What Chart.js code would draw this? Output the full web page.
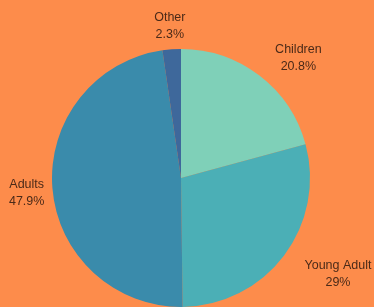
<!DOCTYPE html>
<html>
<head>
<meta charset="utf-8">
<script src="https://cdn.jsdelivr.net/npm/chart.js@4/dist/chart.umd.min.js"></script>
<style>
  html, body { margin: 0; padding: 0; background: #fd8c4b; }
  canvas { display: block; }
</style>
</head>
<body>
<canvas id="ageChart" width="374" height="307"></canvas>
<script>
const categories = ['Children', 'Young Adult', 'Adults', 'Other'];
const shares = [20.8, 29, 47.9, 2.3];
const sliceColors = ['#7fd0b8', '#4bafb6', '#3a8bab', '#3e689b'];

// labels outside the slices, two lines: name + percent
const outsideLabels = {
    id: 'outsideLabels',
    afterDatasetsDraw(chart) {
        const ctx = chart.ctx;
        const meta = chart.getDatasetMeta(0);
        ctx.save();
        ctx.font = '12.5px "Liberation Sans", Arial, sans-serif';
        ctx.fillStyle = '#4b2a18';
        ctx.textBaseline = 'middle';
        ctx.textAlign = 'center';
        meta.data.forEach(function(arc, i) {
            const p = arc.getProps(['x', 'y', 'startAngle', 'endAngle', 'outerRadius'], true);
            const mid = (p.startAngle + p.endAngle) / 2;
            const r = p.outerRadius * 1.2;
            let lx = p.x + Math.cos(mid) * r;
            const ly = p.y + Math.sin(mid) * r + 2.5;
            const lines = [categories[i], shares[i] + '%'];
            const w = Math.max.apply(null, lines.map(function(t) { return ctx.measureText(t).width; }));
            if (Math.cos(mid) > 0.5) {
                lx = lx + w / 2;
            }
            ctx.fillText(lines[0], lx, ly - 8.5);
            ctx.fillText(lines[1], lx, ly + 8.5);
        });
        ctx.restore();
    }
};

new Chart(document.getElementById('ageChart'), {
    type: 'pie',
    data: {
        labels: categories,
        datasets: [{
            data: shares,
            backgroundColor: sliceColors,
            borderWidth: 0
        }]
    },
    options: {
        responsive: false,
        animation: false,
        layout: {
            padding: { top: 49, bottom: 0, left: 0, right: 12 }
        },
        plugins: {
            legend: { display: false },
            tooltip: { enabled: false }
        }
    },
    plugins: [outsideLabels]
});
</script>
</body>
</html>
